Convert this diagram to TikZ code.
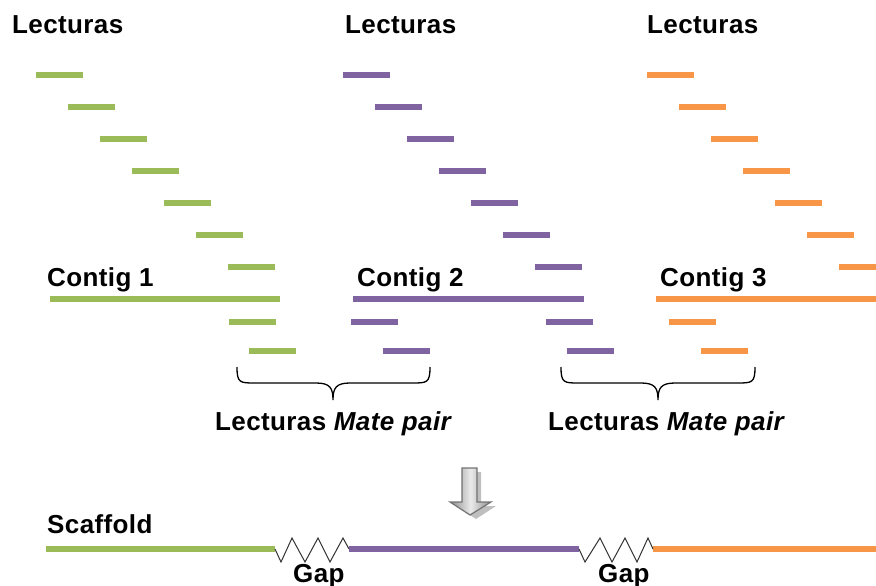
\documentclass[tikz,border=0pt]{standalone}
\usepackage{fontspec}
\setmainfont{Liberation Sans}[LetterSpace=1.5]
\definecolor{cgreen}{HTML}{9BBB59}
\definecolor{cpurple}{HTML}{8064A2}
\definecolor{corange}{HTML}{F79646}
\begin{document}
\begin{tikzpicture}[x=1pt,y=-1pt,
  lbl/.style={anchor=base west,inner sep=0pt,font=\fontsize{26}{28}\selectfont\bfseries},
  readline/.style={line width=5.5pt},
  contigline/.style={line width=5.5pt},
  bracepath/.style={draw=black,line width=1.3pt},
  zig/.style={draw=black!80,line width=1pt,line join=miter}]
\useasboundingbox (0,0) rectangle (876,586);
% titles
\node[lbl] (t1) at (12,34) {Lecturas};
\node[lbl] (t2) at (345,34) {Lecturas};
\node[lbl] (t3) at (647,34) {Lecturas};
% staircase reads
\foreach \k in {0,...,6}{
  \draw[readline,cgreen]  ({36+32*\k},{75+32*\k}) -- ++(47,0);
  \draw[readline,cpurple] ({343+32*\k},{75+32*\k}) -- ++(47,0);
}
\foreach \k in {0,...,5}{
  \draw[readline,corange] ({647+32*\k},{75+32*\k}) -- ++(47,0);
}
\draw[readline,corange] (839,267) -- (876,267);
% contigs
\node[lbl] (c1) at (47,286) {Contig 1};
\node[lbl] (c2) at (357,286) {Contig 2};
\node[lbl] (c3) at (660,286) {Contig 3};
\draw[contigline,cgreen] (50,299) -- (280,299);
\draw[contigline,cpurple] (353,299) -- (584,299);
\draw[contigline,corange] (656,299) -- (876,299);
% mate pair reads
\draw[readline,cgreen] (229,322) -- ++(47,0);
\draw[readline,cgreen] (249,351) -- ++(47,0);
\draw[readline,cpurple] (351,322) -- ++(47,0);
\draw[readline,cpurple] (383,351) -- ++(47,0);
\draw[readline,cpurple] (546,322) -- ++(47,0);
\draw[readline,cpurple] (567,351) -- ++(47,0);
\draw[readline,corange] (669,322) -- ++(47,0);
\draw[readline,corange] (701,351) -- ++(47,0);
% braces
\draw[bracepath] (237,367) .. controls (237,383) and (240,383) .. (255,383) -- (316,383)
  .. controls (330,383) and (333,388) .. (333,400)
  .. controls (333,388) and (336,383) .. (350,383) -- (412,383)
  .. controls (427,383) and (430,383) .. (430,367);
\draw[bracepath] (561,367) .. controls (561,383) and (564,383) .. (579,383) -- (641,383)
  .. controls (655,383) and (658,388) .. (658,400)
  .. controls (658,388) and (661,383) .. (675,383) -- (737,383)
  .. controls (752,383) and (755,383) .. (755,367);
\node[lbl] (m1) at (215,430) {Lecturas \textit{Mate pair}};
\node[lbl] (m2) at (548,430) {Lecturas \textit{Mate pair}};
% arrow
\fill[black!25] (466,472) -- (481,472) -- (481,506) -- (496,506) -- (476,519) -- (456,506) -- (466,506) -- cycle;
\shade[left color=black!45,right color=black!45,middle color=black!8,draw=black!55,line width=1.2pt]
  (462,468) -- (477,468) -- (477,502) -- (491,502) -- (470,515) -- (450,502) -- (462,502) -- cycle;
% scaffold
\node[lbl] (sc) at (47,533) {Scaffold};
\coordinate (g1a) at (275,549);
\coordinate (g1b) at (349,549);
\coordinate (g2a) at (579,549);
\coordinate (g2b) at (653,549);
\draw[contigline,cgreen] (46,549) -- (g1a);
\draw[contigline,cpurple] (g1b) -- (g2a);
\draw[contigline,corange] (g2b) -- (876,549);
\draw[zig] (g1a) -- (281,562) -- (292,538) -- (305,562) -- (318,538) -- (330,562) -- (343,538) -- (g1b);
\draw[zig] (g2a) -- (585,562) -- (600,538) -- (612,562) -- (625,538) -- (637,562) -- (648,538) -- (g2b);
\node[lbl] (gp1) at (293,582) {Gap};
\node[lbl] (gp2) at (598,582) {Gap};
\end{tikzpicture}
\end{document}
